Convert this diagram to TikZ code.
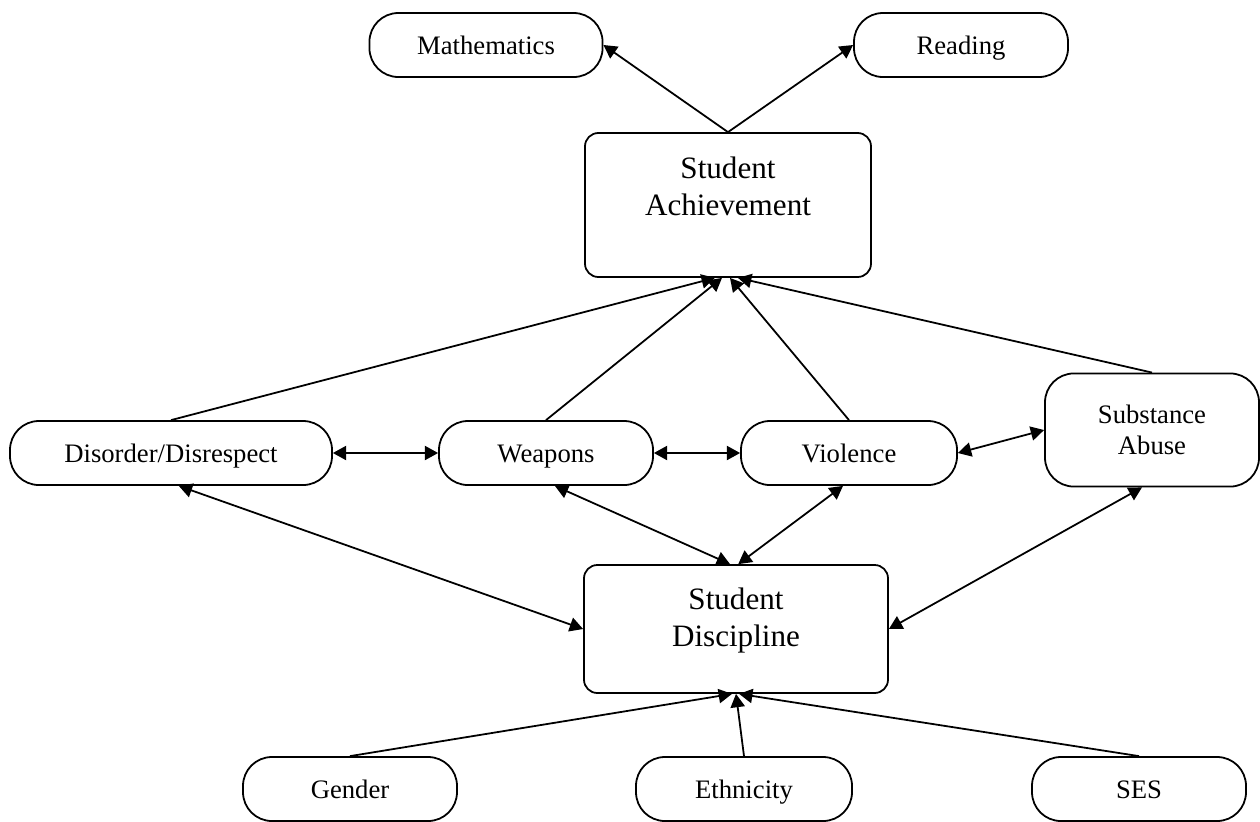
\documentclass[tikz,border=0pt]{standalone}
\usepackage{fontspec}
\setmainfont{Liberation Serif}
\usetikzlibrary{arrows.meta}
\tikzstyle{every node}=[draw, inner sep=0pt, line width=0.8pt, align=center]
\tikzstyle{tallitem}=[rounded corners=13pt, minimum width=96.3pt, minimum height=28.8pt, font=\fontsize{12}{14}\selectfont]
\tikzstyle{item}=[tallitem, text height=9.6pt, text depth=1.2pt]
\tikzstyle{factor}=[rounded corners=6pt, font=\fontsize{14}{16.7}\selectfont]
\tikzstyle{link}=[line width=0.8pt, -{Triangle[length=6pt,width=6.4pt]}]
\tikzstyle{both}=[line width=0.8pt, {Triangle[length=6pt,width=6.4pt]}-{Triangle[length=6pt,width=6.4pt]}]

\begin{document}
\begin{tikzpicture}[x=0.45pt, y=-0.45pt]
\useasboundingbox (0,0) rectangle (1260,821);
% Outcomes
	\node[item, minimum width=104.9pt] (math) at (486,45) {Mathematics};
	\node[item] (read) at (961,45) {Reading};
	\node[factor, minimum width=128.7pt, minimum height=64.8pt] (sa) at (728,205) {Student\\Achievement\\\mbox{}};
% Behaviours
	\node[item, minimum width=144.9pt] (dis) at (171,453) {Disorder/Disrespect};
	\node[item] (weap) at (546,453) {Weapons};
	\node[item, minimum width=97.2pt] (viol) at (849,453) {Violence};
	\node[tallitem, minimum height=50.9pt] (subst) at (1152,430) {Substance\\Abuse};
	\node[factor, minimum width=136.8pt, minimum height=57.6pt] (sd) at (736,629) {Student\\Discipline\\[-6.3pt]\mbox{}};
% Background
	\node[item] (gen) at (350,789) {Gender};
	\node[item, minimum width=97.2pt] (eth) at (744,789) {Ethnicity};
	\node[item] (ses) at (1139,789) {SES};
% Achievement to subjects
	\draw[link] (sa.north) -- (math.east);
	\draw[link] (sa.north) -- (read.west);
% Behaviours to achievement
	\draw[link] (dis.north) -- ([xshift=-5.9pt]sa.south);
	\draw[link] (weap.north) -- ([xshift=-2.7pt]sa.south);
	\draw[link] (viol.north) -- ([xshift=0.9pt]sa.south);
	\draw[link] (subst.north) -- ([xshift=4.5pt]sa.south);
% Between behaviours
	\draw[both] (dis.east) -- (weap.west);
	\draw[both] (weap.east) -- (viol.west);
	\draw[both] (viol.east) -- (subst.west);
% Behaviours and discipline
	\draw[both] ([xshift=3.5pt]dis.south) -- (sd.west);
	\draw[both] ([xshift=4pt]weap.south) -- ([xshift=-2.7pt]sd.north);
	\draw[both] ([xshift=-2.7pt]viol.south) -- ([xshift=1pt]sd.north);
	\draw[both] ([xshift=-4.5pt]subst.south) -- (sd.east);
% Background to discipline
	\draw[link] (gen.north) -- ([xshift=-1.8pt]sd.south);
	\draw[link] (eth.north) -- (sd.south);
	\draw[link] (ses.north) -- ([xshift=1.4pt]sd.south);
\end{tikzpicture}
\end{document}
